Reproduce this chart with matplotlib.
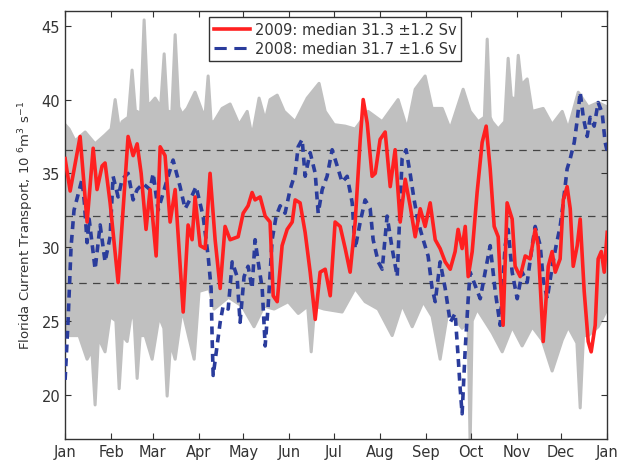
import numpy as np
import matplotlib
matplotlib.use("Agg")
import matplotlib.pyplot as plt
from matplotlib.lines import Line2D

plt.rcParams['font.family'] = ['DejaVu Sans']

# month starts (day of year) and labels
month_days = [0, 31, 59, 90, 120, 151, 181, 212, 243, 273, 304, 334, 365]
month_labels = ['Jan', 'Feb', 'Mar', 'Apr', 'May', 'Jun', 'Jul', 'Aug',
                'Sep', 'Oct', 'Nov', 'Dec', 'Jan']

# other years: envelope of the gray lines
gray_up_day = [0, 2.7, 6.7, 13.5, 20.2, 26.9, 31.0, 33.7, 36.5, 38.4,
               42.5, 45.1, 47.5, 48.5, 50.8, 53.2, 55.8, 57.2, 60.6, 64.3,
               66.7, 69.0, 70.0, 71.8, 74.1, 76.5, 78.8, 82.2, 87.5, 92.3,
               94.3, 96.3, 98.3, 100.3, 105.7, 111.1, 117.2, 122.6, 125.9, 130.6,
               134.7, 138.0, 142.8, 147.5, 154.9, 163.0, 171.0, 175.1, 181.1, 188.6,
               195.3, 204.0, 213.5, 224.2, 230.3, 235.7, 242.4, 247.1, 253.9, 259.3,
               268.0, 272.7, 278.1, 282.3, 284.2, 286.2, 287.5, 291.6, 296.0, 298.3,
               300.5, 301.7, 303.3, 305.1, 307.3, 311.1, 314.5, 321.9, 327.9, 334.7,
               338.7, 345.5, 352.2, 358.9, 365]
gray_up = [38.3, 38.0, 37.2, 37.8, 37.0, 37.6, 38.0, 40.0, 38.0, 38.5,
           38.8, 42.0, 39.0, 39.2, 39.0, 45.4, 39.5, 39.7, 40.1, 39.5,
           43.1, 39.0, 39.2, 39.0, 44.4, 39.5, 39.0, 39.4, 40.5, 39.2,
           39.0, 41.6, 38.5, 38.5, 39.4, 39.7, 38.3, 39.2, 37.5, 40.1,
           38.6, 40.0, 40.3, 39.2, 38.5, 40.1, 41.1, 39.2, 38.3, 38.2,
           38.0, 39.2, 38.5, 40.0, 38.0, 40.7, 41.6, 39.4, 39.4, 38.0,
           40.7, 39.2, 38.5, 38.8, 44.1, 38.8, 38.5, 38.0, 38.5, 42.8,
           40.0, 40.1, 40.0, 43.0, 41.0, 41.4, 39.2, 39.4, 38.3, 39.2,
           38.0, 40.5, 39.5, 39.8, 39.5]

gray_lo_day = [0, 9.4, 14.8, 18.0, 20.2, 22.3, 23.6, 26.9, 30.3, 34.2,
               36.4, 38.6, 41.8, 45.1, 46.5, 48.5, 50.5, 53.9, 58.6, 63.3,
               66.5, 68.7, 71.0, 74.1, 78.8, 83.5, 86.9, 90.2, 97.0, 100.3,
               110.0, 119.2, 127.2, 134.0, 140.7, 150.2, 157.0, 163.3, 165.7, 168.1,
               174.4, 186.5, 195.3, 202.0, 210.8, 220.2, 226.9, 233.7, 241.1, 247.1,
               252.5, 258.0, 267.3, 271.3, 272.7, 274.1, 277.4, 287.5, 294.3, 301.0,
               307.7, 314.5, 321.2, 327.9, 334.7, 338.7, 344.6, 346.8, 349.0, 352.2,
               358.9, 365]
gray_lo = [24.0, 24.0, 22.4, 23.0, 19.3, 23.6, 23.6, 22.9, 25.3, 25.0,
           20.4, 24.0, 23.6, 25.8, 25.0, 21.1, 24.0, 24.0, 22.4, 25.3,
           24.5, 19.9, 23.5, 22.4, 25.8, 23.8, 22.4, 27.0, 27.2, 25.8,
           26.6, 26.0, 24.6, 26.0, 25.8, 26.3, 25.5, 26.0, 22.9, 26.0,
           25.8, 25.6, 27.2, 26.3, 25.8, 24.0, 26.1, 24.6, 26.3, 25.3,
           22.4, 25.8, 24.5, 25.0, 16.5, 25.0, 25.8, 24.2, 22.9, 24.6,
           23.3, 24.6, 23.7, 21.6, 23.7, 24.6, 23.5, 19.1, 24.0, 24.0,
           24.6, 25.8]

# 2009 transport
day_2009 = [0, 3.4, 10.1, 14.8, 18.9, 21.5, 24.9, 26.9, 30.3, 35.7,
            42.4, 45.8, 48.5, 51.2, 54.5, 57.2, 61.3, 64.0, 67.3, 70.7,
            74.1, 79.5, 82.8, 85.5, 87.5, 90.9, 94.3, 97.6, 101.0, 104.4,
            107.7, 111.1, 116.5, 119.9, 123.2, 125.9, 127.9, 131.3, 134.7, 138.0,
            140.1, 142.8, 146.1, 149.5, 152.9, 154.9, 158.2, 161.6, 165.0, 168.4,
            171.7, 175.1, 178.5, 181.8, 185.2, 188.6, 191.9, 195.3, 198.7, 200.7,
            203.4, 206.7, 208.8, 212.1, 215.5, 218.9, 222.2, 225.6, 229.0, 232.3,
            235.7, 239.1, 242.4, 245.8, 249.2, 252.5, 255.9, 259.3, 262.6, 264.6,
            267.3, 269.4, 271.4, 274.1, 277.4, 280.8, 283.5, 286.2, 288.9, 291.6,
            292.9, 294.9, 297.6, 301.0, 303.0, 306.4, 309.8, 313.1, 316.5, 318.5,
            321.9, 325.3, 327.9, 330.0, 333.3, 335.4, 338.0, 340.1, 342.1, 344.8,
            346.8, 349.5, 352.2, 354.2, 356.9, 358.9, 361.0, 363.0, 365]
tr_2009 = [36.0, 33.8, 37.5, 31.7, 36.7, 33.9, 35.5, 35.7, 33.0, 27.6,
           37.5, 36.2, 37.0, 35.0, 31.2, 33.9, 29.4, 36.8, 36.2, 31.7,
           33.9, 25.6, 31.5, 30.5, 33.4, 30.1, 29.9, 35.0, 30.5, 27.2,
           31.4, 30.5, 30.7, 32.3, 32.8, 33.7, 33.2, 33.4, 32.1, 31.7,
           26.7, 26.3, 30.1, 31.2, 31.7, 33.2, 33.0, 31.0, 28.3, 25.1,
           28.3, 28.5, 26.7, 31.7, 31.4, 29.9, 28.3, 31.7, 37.3, 40.0,
           38.4, 34.8, 35.0, 37.3, 37.8, 34.1, 36.6, 31.7, 34.6, 32.8,
           30.7, 32.6, 31.4, 33.0, 30.5, 29.9, 29.0, 28.5, 29.7, 31.2,
           29.9, 31.4, 28.0, 29.7, 33.7, 37.1, 38.2, 35.3, 31.4, 30.7,
           28.0, 24.7, 33.0, 31.9, 28.7, 28.0, 29.4, 29.2, 31.2, 30.1,
           23.6, 28.7, 29.7, 28.3, 29.2, 33.2, 34.1, 32.6, 28.7, 30.1,
           31.9, 27.0, 23.6, 22.9, 24.7, 29.2, 29.7, 28.3, 31.0]

# 2008 transport
day_2008 = [0, 2, 4, 6, 11.4, 13, 14.8, 16.2, 20.2, 23.6,
            26.9, 30.3, 32.3, 35.7, 38.4, 42.4, 45.8, 48.5, 52.5, 57.2,
            59.3, 62.6, 67.3, 72.7, 77.4, 80.8, 85.5, 88.2, 92.9, 96.3,
            98.3, 99.0, 99.7, 104.4, 106.4, 109.8, 112.5, 115.8, 117.8, 120.5,
            123.2, 125.9, 127.9, 130.0, 132.7, 134.7, 136.7, 139.4, 142.1, 144.8,
            148.1, 151.5, 154.9, 156.9, 159.6, 161.6, 165.0, 168.4, 170.4, 173.1,
            176.4, 179.8, 183.2, 186.5, 189.9, 193.3, 195.3, 198.7, 202.0, 205.4,
            207.4, 210.8, 213.5, 216.8, 220.2, 223.6, 226.9, 229.6, 232.3, 235.0,
            237.7, 241.1, 244.4, 247.1, 249.2, 252.5, 255.9, 259.3, 262.6, 264.6,
            266.0, 267.3, 269.4, 271.4, 272.7, 276.1, 279.5, 282.8, 286.2, 289.6,
            292.9, 296.3, 298.3, 301.0, 304.4, 307.7, 311.1, 314.5, 316.5, 319.9,
            321.9, 324.6, 328.0, 330.6, 333.3, 335.4, 338.0, 340.1, 342.8, 344.8,
            346.8, 348.9, 351.5, 353.5, 356.2, 358.9, 361.6, 363.6, 365]
tr_2008 = [21.0, 25.0, 30.0, 32.5, 34.6, 33.0, 30.3, 31.9, 28.5, 31.5,
           29.0, 30.7, 34.8, 33.4, 34.6, 35.0, 33.2, 33.9, 34.3, 33.9,
           35.0, 32.5, 34.1, 35.9, 34.1, 32.6, 33.5, 34.1, 32.1, 29.4,
           27.2, 23.8, 21.3, 24.9, 26.0, 25.8, 29.0, 28.0, 24.9, 28.0,
           28.7, 27.2, 30.5, 29.0, 27.2, 23.3, 26.0, 30.5, 32.1, 32.8,
           32.3, 33.9, 35.0, 36.8, 37.3, 34.8, 36.4, 35.0, 32.3, 33.9,
           34.8, 36.6, 35.5, 34.4, 34.8, 33.0, 29.9, 31.7, 33.2, 32.6,
           30.5, 29.0, 28.5, 32.1, 29.9, 28.0, 36.0, 36.6, 35.0, 33.2,
           31.7, 30.5, 29.4, 27.2, 26.3, 29.0, 27.2, 24.9, 25.5, 22.6,
           20.4, 18.7, 23.1, 26.5, 28.3, 27.4, 26.5, 28.3, 30.1, 27.0,
           24.7, 30.1, 31.2, 28.3, 26.5, 28.3, 27.6, 30.1, 31.4, 30.1,
           27.8, 26.5, 28.7, 30.1, 31.4, 33.0, 35.3, 36.0, 37.1, 38.6,
           40.5, 38.8, 37.5, 38.8, 38.2, 39.8, 39.1, 37.1, 36.5]

# mean and +/- one standard deviation of all years
ref_levels = [27.6, 32.1, 36.6]

red = '#ff2020'
blue = '#2a3c9c'
gray = '#c0c0c0'

fig = plt.figure(figsize=(6.26, 4.64), dpi=100)
ax = fig.add_axes([0.104, 0.052, 0.866, 0.922])

grid = np.linspace(0, 365, 2921)
up = np.interp(grid, gray_up_day, gray_up)
lo = np.interp(grid, gray_lo_day, gray_lo)
ax.fill_between(grid, lo, up, color=gray, lw=0, zorder=1)
ax.plot(gray_up_day, gray_up, color=gray, lw=2.2, zorder=1)
ax.plot(gray_lo_day, gray_lo, color=gray, lw=2.2, zorder=1)

for lev in ref_levels:
    ax.axhline(lev, color='#444444', lw=0.9, ls=(0, (6, 5)), zorder=2)

ax.plot(day_2008, tr_2008, color=blue, lw=2.6, ls=(0, (2.2, 1.6)), zorder=3)
ax.plot(day_2009, tr_2009, color=red, lw=2.6, zorder=4)

ax.set_xlim(0, 365)
ax.set_ylim(17, 46)
ax.set_xticks(month_days)
ax.set_xticklabels(month_labels)
ax.set_yticks([20, 25, 30, 35, 40, 45])
ax.tick_params(direction='in', top=True, right=True, labelsize=10.5,
               colors='#333333', length=4, width=0.8)
for sp in ax.spines.values():
    sp.set_color('#333333')
    sp.set_linewidth(1.0)
ax.set_ylabel('Florida Current Transport, 10 $^6$m$^3$ s$^{-1}$',
              fontsize=9.5, color='#333333', labelpad=4)

handles = [Line2D([], [], color=red, lw=2.6),
           Line2D([], [], color=blue, lw=2.2, ls=(0, (4, 2.5)))]
labels = ['2009: median 31.3 \u00b11.2 Sv', '2008: median 31.7 \u00b11.6 Sv']
leg = ax.legend(handles, labels, loc='upper center',
                bbox_to_anchor=(0.498, 1.003), fontsize=10.5, frameon=True,
                fancybox=False, edgecolor='#333333', handlelength=2.5,
                borderpad=0.35, labelspacing=0.25, handletextpad=0.3,
                framealpha=1.0)
leg.get_frame().set_linewidth(1.0)
for t in leg.get_texts():
    t.set_color('#333333')

fig.savefig('out.png', dpi=100)
